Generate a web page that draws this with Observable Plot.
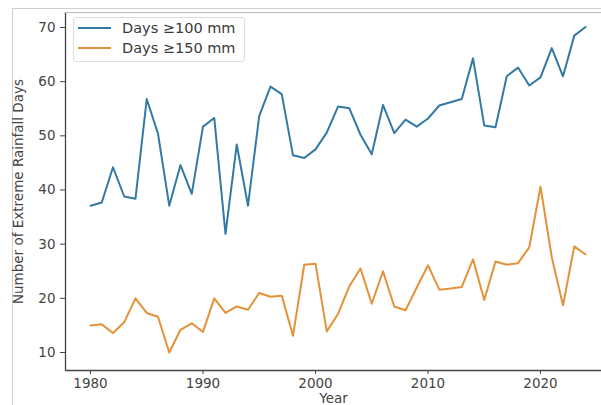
<!DOCTYPE html>
<html>
<head>
<meta charset="utf-8">
<script src="https://cdn.jsdelivr.net/npm/d3@7"></script>
<script src="https://cdn.jsdelivr.net/npm/@observablehq/plot@0.6"></script>
<style>
  html, body { margin: 0; padding: 0; background: #fff; }
  #wrap { position: relative; width: 601px; height: 405px; overflow: hidden; font-family: "DejaVu Sans", sans-serif; }
  #border { position: absolute; left: 12px; top: 8px; right: -2px; bottom: -2px; border-left: 1px solid #cfcfcf; border-top: 1px solid #cfcfcf; }
  #chart { position: absolute; left: 0; top: 0; }
  #chart svg text { font-size: 13.5px; fill: #444; }
  #legend { position: absolute; left: 73px; top: 17px; width: 172px; height: 45px; border: 1px solid #dcdcdc; border-radius: 3px; background: rgba(255,255,255,0.85); box-sizing: border-box; font-size: 14.5px; color: #3a3a3a; }
  .item { position: absolute; left: 4px; display: flex; align-items: center; }
  .sw { width: 33px; height: 2px; margin-right: 11px; }
</style>
</head>
<body>
<div id="wrap">
  <div id="border"></div>
  <div id="chart"></div>
  <div id="legend"></div>
</div>
<script>
const years = d3.range(1980, 2025);
const days100 = [37.1, 37.7, 44.2, 38.8, 38.4, 56.8, 50.4, 37.1, 44.6, 39.3,
                 51.7, 53.3, 31.9, 48.4, 37.1, 53.7, 59.1, 57.7, 46.4, 45.9,
                 47.5, 50.6, 55.4, 55.1, 50.2, 46.6, 55.7, 50.5, 53.0, 51.7,
                 53.2, 55.6, 56.2, 56.8, 64.3, 51.9, 51.6, 61.0, 62.6, 59.3,
                 60.8, 66.2, 61.0, 68.5, 70.1];
const days150 = [15.0, 15.2, 13.6, 15.6, 20.0, 17.3, 16.6, 10.0, 14.2, 15.4,
                 13.8, 20.0, 17.3, 18.5, 17.9, 21.0, 20.3, 20.5, 13.1, 26.2,
                 26.4, 13.9, 17.1, 22.2, 25.5, 19.0, 25.0, 18.5, 17.8, 22.0,
                 26.1, 21.6, 21.8, 22.1, 27.2, 19.7, 26.8, 26.2, 26.5, 29.4,
                 40.6, 27.6, 18.7, 29.6, 28.1];
const seriesNames = ["Days \u2265100 mm", "Days \u2265150 mm"];
const seriesColors = ["#327aa3", "#e3923a"];
const xTicks = [1980, 1990, 2000, 2010, 2020];
const yTicks = [10, 20, 30, 40, 50, 60, 70];
const xDomain = [1977.78, 2025.42];
const yDomain = [6.68, 72.77];

const data = [
  ...years.map((y, i) => ({year: y, value: days100[i], series: seriesNames[0]})),
  ...years.map((y, i) => ({year: y, value: days150[i], series: seriesNames[1]}))
];

const chart = Plot.plot({
  width: 601,
  height: 405,
  marginLeft: 65,
  marginRight: 0,
  marginTop: 12,
  marginBottom: 35,
  style: {fontFamily: "DejaVu Sans, sans-serif", fontSize: "13.5px", color: "#444", background: "transparent"},
  x: {domain: xDomain},
  y: {domain: yDomain},
  color: {domain: seriesNames, range: seriesColors},
  marks: [
    Plot.ruleX([xDomain[0]], {stroke: "#444", strokeWidth: 1.3}),
    Plot.ruleY([yDomain[0]], {stroke: "#444", strokeWidth: 1.3}),
    Plot.ruleY([yDomain[1]], {stroke: "#bbb", strokeWidth: 1}),
    Plot.line(data, {x: "year", y: "value", z: "series", stroke: "series", strokeWidth: 2}),
    Plot.axisX({ticks: xTicks, tickFormat: d => String(d), tickSize: 4, tickPadding: 4, label: "Year", labelAnchor: "center", labelOffset: 32, labelArrow: "none"}),
    Plot.axisY({ticks: yTicks, tickSize: 5, tickPadding: 5, label: "Number of Extreme Rainfall Days", labelAnchor: "center", labelOffset: 52, labelArrow: "none"})
  ]
});
document.getElementById("chart").appendChild(chart);

const legend = document.getElementById("legend");
seriesNames.forEach((name, i) => {
  const item = document.createElement("div");
  item.className = "item";
  item.style.top = (2 + i * 20) + "px";
  const sw = document.createElement("span");
  sw.className = "sw";
  sw.style.background = seriesColors[i];
  const tx = document.createElement("span");
  tx.textContent = name;
  item.appendChild(sw);
  item.appendChild(tx);
  legend.appendChild(item);
});
</script>
</body>
</html>
